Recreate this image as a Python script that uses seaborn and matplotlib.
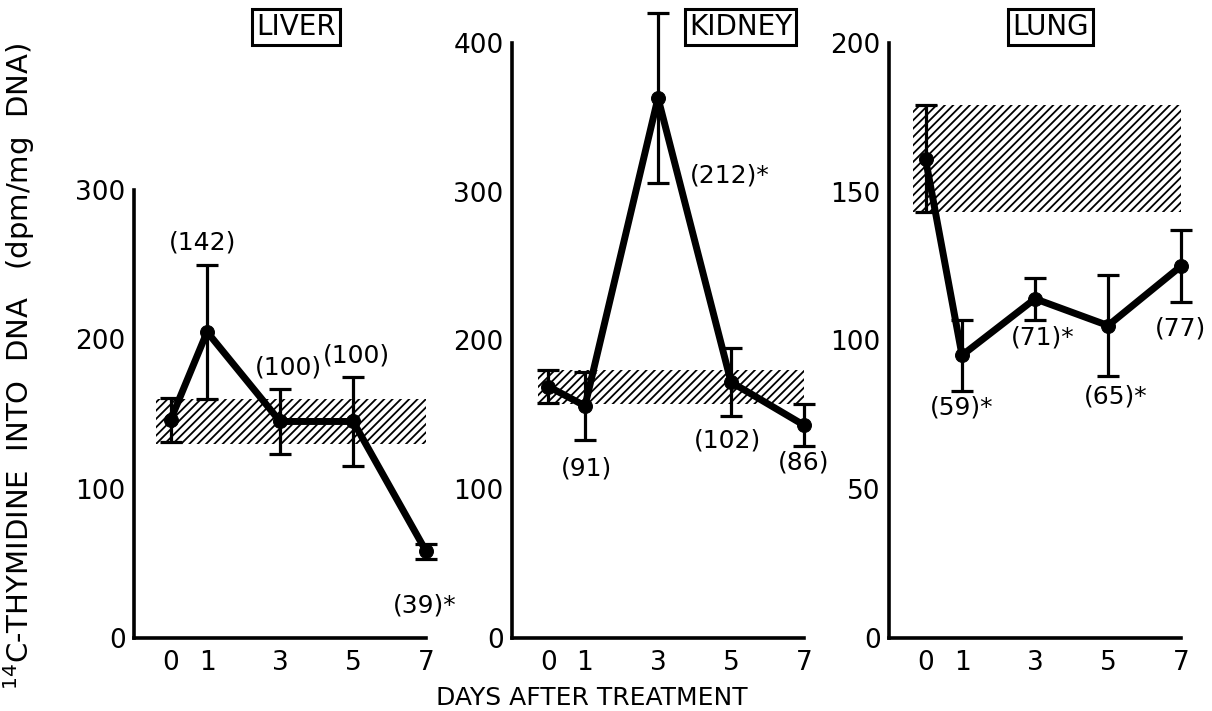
import matplotlib
matplotlib.use("Agg")
import matplotlib.pyplot as plt
import seaborn as sns

# Set style
sns.set_style("white")
plt.rcParams['font.family'] = ['DejaVu Sans']
plt.rcParams['hatch.linewidth'] = 1.3
plt.rcParams['hatch.color'] = 'black'
for key in ['text.color', 'axes.labelcolor', 'xtick.color', 'ytick.color', 'axes.edgecolor']:
    plt.rcParams[key] = 'black'

days = [0, 1, 3, 5, 7]

# values
liver_mean = [146, 205, 145, 145, 58]
liver_err = [15, 45, 22, 30, 5]
liver_band = (130, 160)
liver_ticks = [0, 100, 200, 300]
liver_labels = ["(142)", "(100)", "(100)", "(39)*"]

kidney_mean = [169, 156, 363, 172, 143]
kidney_err = [11, 23, 57, 23, 14]
kidney_band = (157, 180)
kidney_ticks = [0, 100, 200, 300, 400]
kidney_labels = ["(91)", "(212)*", "(102)", "(86)"]

lung_mean = [161, 95, 114, 105, 125]
lung_err = [18, 12, 7, 17, 12]
lung_band = (143, 179)
lung_ticks = [0, 50, 100, 150, 200]
lung_labels = ["(59)*", "(71)*", "(65)*", "(77)"]


def draw_panel(ax, mean, err, band, band_x, ticks, labels, label_pos, label_ha):
    ax.fill_between(band_x, band[0], band[1], facecolor='white', edgecolor='black',
                    hatch='////', linewidth=0, zorder=1)
    eb = ax.errorbar(days, mean, yerr=err, fmt='none', ecolor='black',
                     elinewidth=2.3, capsize=8, capthick=2.3, zorder=2)
    for art in list(eb.lines[1]) + list(eb.lines[2]):
        art.set_clip_on(False)
    sns.lineplot(x=days, y=mean, ax=ax, color='black', linewidth=5, marker='o',
                 markersize=10, markeredgecolor='black', zorder=3, clip_on=False)

    ax.set_xlim(-1, 7)
    ax.set_ylim(0, ticks[-1])
    ax.set_xticks(days)
    ax.set_yticks(ticks)
    ax.set_xlabel('')
    ax.set_ylabel('')
    ax.spines[['top', 'right']].set_visible(False)
    for s in ['left', 'bottom']:
        ax.spines[s].set_linewidth(2.6)
    ax.tick_params(direction='in', length=13, width=2.6, labelsize=19)
    ax.tick_params(axis='x', pad=9)
    ax.tick_params(axis='y', pad=6)

    for txt, (x, y), ha in zip(labels, label_pos, label_ha):
        ax.text(x, y, txt, ha=ha, va='center', fontsize=18, clip_on=False)


fig = plt.figure(figsize=(12.12, 7.11), dpi=100)

ax1 = fig.add_axes([0.1106, 0.1027, 0.241, 0.630])
draw_panel(ax1, liver_mean, liver_err, liver_band, (-0.4, 7), liver_ticks, liver_labels,
           [(0.88, 265), (3.23, 181), (5.1, 189), (6.96, 22)],
           ['center', 'center', 'center', 'center'])

ax2 = fig.add_axes([0.4224, 0.1027, 0.241, 0.837])
draw_panel(ax2, kidney_mean, kidney_err, kidney_band, (-0.3, 7), kidney_ticks, kidney_labels,
           [(1.04, 114), (3.86, 311), (4.9, 133), (7.0, 118)],
           ['center', 'left', 'center', 'center'])

ax3 = fig.add_axes([0.7335, 0.1027, 0.241, 0.837])
draw_panel(ax3, lung_mean, lung_err, lung_band, (-0.35, 7), lung_ticks, lung_labels,
           [(0.98, 77.5), (3.2, 101), (5.2, 81), (6.98, 104)],
           ['center', 'center', 'center', 'center'])

# boxed panel titles
for title, x in [("LIVER", 0.244), ("KIDNEY", 0.611), ("LUNG", 0.867)]:
    fig.text(x, 0.962, title, ha='center', va='center', fontsize=20,
             bbox=dict(boxstyle='square,pad=0.15', fc='white', ec='black', lw=2.2))

fig.text(0.016, 0.485, r"$^{14}$C-THYMIDINE  INTO  DNA   (dpm/mg  DNA)", rotation=90,
         ha='center', va='center', fontsize=21)
fig.text(0.488, 0.018, "DAYS AFTER TREATMENT", ha='center', va='center', fontsize=18)

fig.savefig('out.png', dpi=100)
plt.close(fig)
